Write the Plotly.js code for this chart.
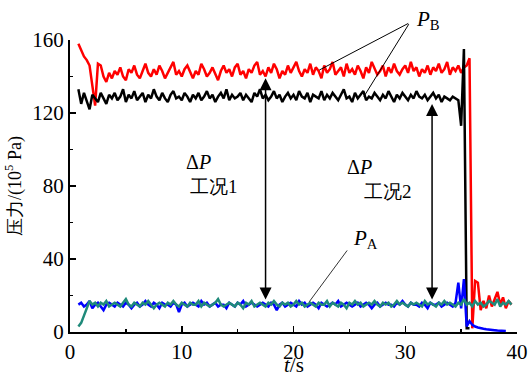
<!DOCTYPE html>
<html>
<head>
<meta charset="utf-8">
<script src="https://cdn.plot.ly/plotly-3.0.1.min.js"></script>
<style>html,body{margin:0;padding:0;background:#fff;}#chart{width:529px;height:378px;}</style>
</head>
<body>
<div id="chart"></div>
<script>
// sampling: t0 = 0.75 s, step 0.25 s
var T0 = 0.75, DT = 0.25;

var pB_red = [
 158,154,151,149,146,135,124,147,146,140,137,142,
 139,143,141,145,140,138,144,142,146,141,139,143,147,142,140,144,
 141,146,143,139,142,145,148,141,143,140,144,146,142,139,143,141,
 147,144,140,142,145,141,138,143,146,142,144,140,145,147,141,143,
 139,144,142,146,148,141,143,140,145,142,147,144,139,143,141,146,
 142,145,148,143,140,144,142,147,141,145,143,139,146,142,144,148,
 141,143,145,140,147,142,144,141,146,143,139,145,142,148,144,141,
 143,146,140,145,142,147,143,141,144,146,142,148,143,145,140,144,
 142,146,141,145,143,147,142,144,148,141,145,143,146,142,145,146,
 150,2,28,27,12,17,13,20,14,18,22,15,19,13,17,15
];

var pB_black = [
 133,125,131,127,122,130,128,126,131,128,125,130,
 128,131,127,129,133,126,130,128,132,127,129,131,126,130,128,133,
 129,127,131,128,126,130,132,128,129,127,131,129,126,130,128,131,
 127,129,132,128,130,126,129,131,128,133,127,130,128,129,131,127,
 130,128,126,131,129,133,128,130,127,129,132,128,130,126,129,131,
 128,130,127,132,129,128,131,126,130,129,128,132,127,130,128,131,
 129,127,130,133,128,129,126,131,128,130,132,127,129,128,131,129,
 127,130,128,132,129,126,130,128,131,129,127,130,128,132,129,128,
 130,127,129,131,128,130,126,129,128,127,129,128,127,
 113,155,2,2
];

var pA_blue = [
 15,16,14,15,17,13,15,16,14,12,15,16,15,14,16,15,
 14,16,15,13,15,16,14,15,17,15,14,16,15,13,16,15,
 15,14,16,15,11,15,16,14,15,16,15,14,17,15,16,14,
 15,16,14,15,15,13,16,15,14,16,15,17,14,15,16,15,
 14,15,16,15,14,16,15,12,15,16,14,15,16,15,14,17,
 15,16,14,15,16,15,13,16,15,14,15,16,15,17,14,15,
 16,15,14,15,16,14,15,16,15,13,15,16,14,15,16,15,
 15,14,16,15,17,15,14,16,15,15,14,16,15,13,16,15,
 15,16,14,15,16,15,14,
 16,27,13,29,3,6,4,3,2.5,2,1.8,1.5,1.2,1,1,0.8,0.7,0.5,0.5
];

var pA_teal = [
 3,5,9,13,17,
 15,16,14,16,15,17,14,15,16,15,14,16,18,15,14,16,
 15,14,16,15,17,15,13,15,16,15,14,16,15,17,15,14,
 16,15,14,16,15,15,17,14,16,15,14,15,16,18,15,14,
 15,16,15,14,16,15,13,16,15,17,14,15,16,15,14,16,
 15,17,15,14,16,15,16,14,15,17,15,16,14,15,16,15,
 14,16,15,15,17,14,16,15,14,16,15,13,16,15,17,15,
 16,14,15,16,15,17,15,14,16,15,16,14,15,17,15,16,
 15,14,16,15,16,15,14,17,15,16,15,14,16,15,17,15,
 16,15,14,16,15,18,15,16,14,17,15,16,14,15,17,16,15,18,14,16,15,17,15
];

var xTicks = [0, 10, 20, 30, 40];
var yTicks = [0, 40, 80, 120, 160];

var FONT = 'Liberation Serif';

function tr(y, color) {
  return {type: 'scatter', mode: 'lines', x0: T0, dx: DT, y: y,
          line: {color: color, width: 2.5, shape: 'linear'}, hoverinfo: 'skip'};
}

var data = [
  tr(pB_red, '#ff0000'),
  tr(pB_black, '#000000'),
  tr(pA_blue, '#0000ff'),
  tr(pA_teal, '#1f8a7a')
];

var arrowCommon = {xref: 'x', yref: 'y', axref: 'x', ayref: 'y', showarrow: true,
  arrowcolor: '#000', arrowwidth: 1.5, arrowhead: 2, arrowsize: 1.6,
  startarrowhead: 2, startarrowsize: 1.6, arrowside: 'end+start', text: '', standoff: 0, startstandoff: 0};

function lineAnn(x, y, ax, ay, color) {
  return {xref: 'x', yref: 'y', axref: 'x', ayref: 'y', x: x, y: y, ax: ax, ay: ay,
          showarrow: true, arrowhead: 0, arrowwidth: 1, arrowcolor: color, text: ''};
}

function txt(x, y, t, size) {
  return {xref: 'x', yref: 'y', x: x, y: y, text: t, showarrow: false,
          font: {family: FONT, size: size, color: '#000'}};
}

var layout = {
  width: 529, height: 378,
  margin: {l: 70, r: 12, t: 40, b: 46},
  paper_bgcolor: '#fff', plot_bgcolor: '#fff',
  showlegend: false,
  font: {family: FONT, size: 20, color: '#000'},
  xaxis: {
    range: [0, 40], tickvals: xTicks, ticktext: xTicks.map(String),
    ticks: 'inside', ticklen: 6, tickwidth: 1.5, tickcolor: '#000',
    showline: true, linecolor: '#000', linewidth: 2, showgrid: false, zeroline: false,
    minor: {ticks: 'inside', ticklen: 3, tickwidth: 1.5, dtick: 5, tickcolor: '#000', showgrid: false},
    tickfont: {family: FONT, size: 21, color: '#000'}
  },
  yaxis: {
    range: [0, 160], tickvals: yTicks, ticktext: yTicks.map(String),
    ticks: 'inside', ticklen: 6, tickwidth: 1.5, tickcolor: '#000',
    showline: true, linecolor: '#000', linewidth: 2, showgrid: false, zeroline: false,
    minor: {ticks: 'inside', ticklen: 3, tickwidth: 1.5, dtick: 20, tickcolor: '#000', showgrid: false},
    tickfont: {family: FONT, size: 21, color: '#000'},
    title: {text: '压力/(10<sup>5</sup> Pa)', font: {family: FONT, size: 18, color: '#000'}, standoff: 6}
  },
  annotations: [
    Object.assign({}, arrowCommon, {x: 17.5, y: 139, ax: 17.5, ay: 17}),
    Object.assign({}, arrowCommon, {x: 32.4, y: 125, ax: 32.4, ay: 17}),
    txt(11.5, 93, 'Δ<i>P</i>', 20),
    txt(12.85, 79.5, '工况1', 19),
    txt(25.9, 90.5, 'Δ<i>P</i>', 20),
    txt(28.5, 77, '工况2', 19),
    txt(26.4, 51, '<i>P</i><sub>A</sub>', 21),
    {xref: 'x', yref: 'paper', x: 32.0, y: 1.07, yanchor: 'middle', text: '<i>P</i><sub>B</sub>', showarrow: false,
     font: {family: FONT, size: 21, color: '#000'}},
    {xref: 'paper', yref: 'paper', x: 0.5, y: -0.112, yanchor: 'middle', text: '<i>t</i>/s', showarrow: false,
     font: {family: FONT, size: 21, color: '#000'}},
    lineAnn(22.3, 143.5, 30.4, 169.5, '#000'),
    lineAnn(26.3, 129, 30.4, 169.5, '#000'),
    lineAnn(21.4, 16.5, 24.9, 45.5, '#333')
  ]
};

Plotly.newPlot('chart', data, layout, {staticPlot: true, displayModeBar: false});
</script>
</body>
</html>
